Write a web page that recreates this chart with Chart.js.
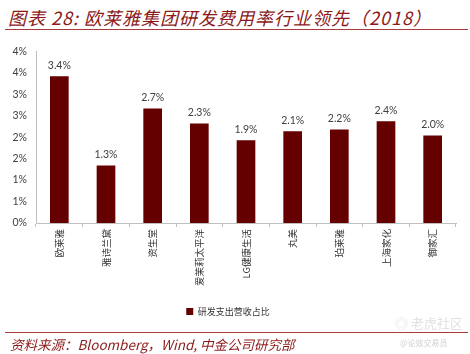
<!DOCTYPE html>
<html>
<head>
<meta charset="utf-8">
<script src="https://cdn.jsdelivr.net/npm/chart.js@4/dist/chart.umd.min.js"></script>
<style>
  html, body { margin:0; padding:0; background:#fff; }
  body { width:470px; height:354px; position:relative; overflow:hidden; font-family:"Noto Sans CJK SC", sans-serif; }
  #title { position:absolute; left:8px; top:4px; font-size:18px; font-style:italic; color:#8c1a1a; white-space:nowrap; letter-spacing:1px; }
  .rule { position:absolute; left:5px; width:463px; height:1px; background:#a83a3a; }
  #source { position:absolute; left:10px; top:334px; font-size:13.5px; font-style:italic; color:#8c1a1a; white-space:nowrap; }
  #wm1 { position:absolute; left:395px; top:313px; font-size:13px; color:#e2e2e2; white-space:nowrap; }
  #wm2 { position:absolute; left:400px; top:337px; font-size:8px; color:#d0d0d0; white-space:nowrap; }
  #wrap { position:absolute; left:0; top:36px; width:470px; height:290px; }
</style>
</head>
<body>
<div id="title">图表 28: 欧莱雅集团研发费用率行业领先（2018）</div>
<div class="rule" style="top:29px"></div>
<div id="wrap"><canvas id="c" width="470" height="290"></canvas></div>
<div id="wm1">◎ 老虎社区</div>
<div class="rule" style="top:332px"></div>
<div id="source">资料来源：Bloomberg，Wind, 中金公司研究部</div>
<div id="wm2">@论效交易员</div>
<script>
const categories = ["欧莱雅", "雅诗兰黛", "资生堂", "爱茉莉太平洋", "LG健康生活", "丸美", "珀莱雅", "上海家化", "御家汇"];
const seriesName = "研发支出营收占比";
const rdRatio = [3.42, 1.34, 2.67, 2.32, 1.93, 2.14, 2.18, 2.37, 2.04];
const yTicks = [0, 0.5, 1, 1.5, 2, 2.5, 3, 3.5, 4];

const barColor = "#650000";

const rotatedLabels = {
  id: "rotatedLabels",
  afterDraw(chart) {
    const xs = chart.scales.x;
    const ctx = chart.ctx;
    ctx.save();
    ctx.fillStyle = "#333";
    ctx.font = "9.5px 'Noto Sans CJK SC'";
    categories.forEach((lab, i) => {
      const x = xs.getPixelForTick(i);
      const y = xs.top + 6;
      ctx.save();
      ctx.translate(x, y);
      ctx.rotate(-Math.PI / 2);
      ctx.textAlign = "right";
      ctx.textBaseline = "middle";
      ctx.fillText(lab, 0, 0);
      ctx.restore();
    });
    ctx.restore();
  }
};

const valueLabels = {
  id: "valueLabels",
  afterDatasetsDraw(chart) {
    const ctx = chart.ctx;
    const meta = chart.getDatasetMeta(0);
    ctx.save();
    ctx.fillStyle = "#404040";
    ctx.font = "10.5px Lato";
    ctx.textAlign = "center";
    ctx.textBaseline = "middle";
    meta.data.forEach((bar, i) => {
      ctx.fillText(rdRatio[i].toFixed(1) + "%", bar.x, bar.y - 11);
    });
    ctx.restore();
  }
};

new Chart(document.getElementById("c"), {
  type: "bar",
  data: {
    labels: categories,
    datasets: [{
      label: seriesName,
      data: rdRatio,
      backgroundColor: barColor,
      borderWidth: 0,
      barPercentage: 0.4,
      categoryPercentage: 1.0
    }]
  },
  options: {
    responsive: false,
    animation: false,
    devicePixelRatio: 1,
    layout: { padding: { left: 0, right: 14, top: 14, bottom: 0 } },
    plugins: {
      legend: {
        display: true,
        position: "bottom",
        labels: {
          boxWidth: 7, boxHeight: 7, padding: 8,
          color: "#333",
          font: { size: 9, family: "'Noto Sans CJK SC'" }
        }
      },
      tooltip: { enabled: false }
    },
    scales: {
      x: {
        offset: true,
        grid: { display: true, drawOnChartArea: false, drawTicks: true, tickLength: 4, color: "#bfbfbf", offset: true },
        border: { display: true, color: "#bfbfbf" },
        ticks: { display: false },
        afterFit(s) { s.height = 76; }
      },
      y: {
        min: 0, max: 4,
        afterBuildTicks(s) { s.ticks = yTicks.map(v => ({ value: v })); },
        grid: { display: false, drawTicks: false },
        border: { display: true, color: "#bfbfbf" },
        ticks: {
          padding: 9,
          color: "#404040",
          font: { size: 10.5, family: "Lato" },
          callback: v => Math.round(v) + "%"
        },
        afterFit(s) { s.width = 36; }
      }
    }
  },
  plugins: [rotatedLabels, valueLabels]
});
</script>
</body>
</html>
